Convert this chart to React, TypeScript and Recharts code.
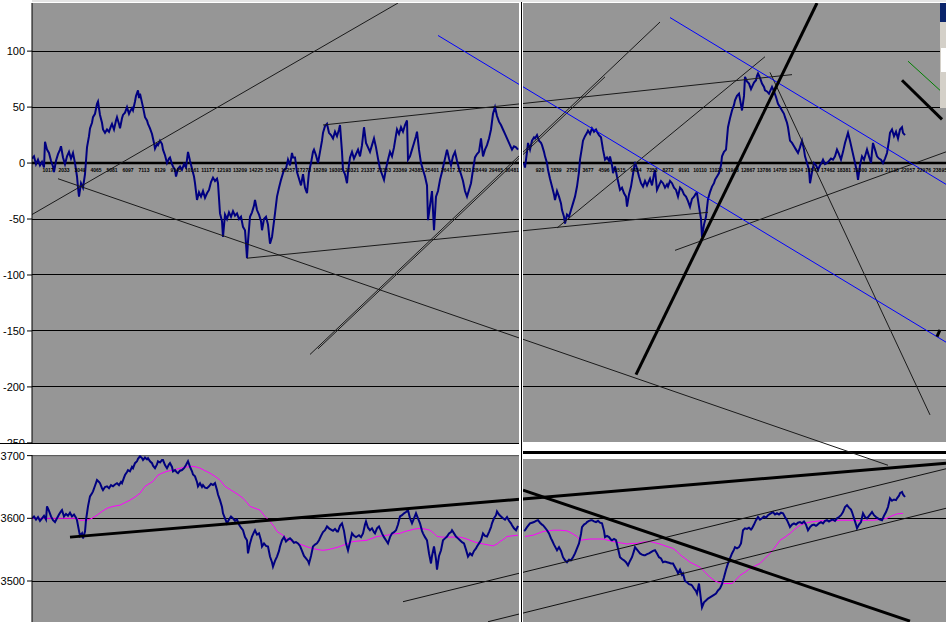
import React from 'react';
import { ComposedChart, Line, Scatter, XAxis, YAxis, ReferenceLine } from 'recharts';

const GRAY = '#969696';
const NAVY = '#000080';
const FONT = 'Liberation Sans, Arial, sans-serif';

// y axis ticks / grid levels
const oscTicks = [100, 50, 0, -50, -100, -150, -200, -250];
const oscGrid = [100, 50, -50, -100, -150, -200];
const priceTicks = [3500, 3600, 3700];
const priceGrid = [3500, 3600];

// tiny bar-number labels printed along the zero line
const barNumsLeft = [1017, 2033, 3049, 4065, 5081, 6097, 7113, 8129, 9145, 10161, 11177, 12193, 13209, 14225, 15241,
  16257, 17273, 18289, 19305, 20321, 21337, 22353, 23369, 24385, 25401, 26417, 27433, 28449, 29465, 30481];
const barPosLeft = [48, 64, 80, 96, 112, 128, 144, 160, 176, 192, 208, 224, 240, 256, 272, 288, 304, 320, 336, 352,
  368, 384, 400, 416, 432, 448, 464, 480, 496, 512];
const barNumsRight = [920, 1839, 2758, 3677, 4596, 5515, 6434, 7353, 8272, 9191, 10110, 11029, 11948, 12867, 13786,
  14705, 15624, 16543, 17462, 18381, 19300, 20219, 21138, 22057, 22976, 23895];
const barPosRight = [540, 556, 572, 588, 604, 620, 636, 652, 668, 684, 700, 716, 732, 748, 764, 780, 796, 812, 828,
  844, 860, 876, 892, 908, 924, 940];

// oscillator (top panel) [bar, value]
const oscLeft = [
  [32, 4], [34, 6], [36, -1], [38, 3], [40, -2], [42, 1], [44, -4], [45, 19], [47, 12], [49, 9], [51, 2], [53, -3],
  [54, -8], [56, 2], [58, 8], [60, 12], [61, 15], [63, 5], [65, -1], [67, 6], [69, 10], [71, 4], [73, 9], [75, 0],
  [77, -12], [78, -22], [79, -30], [81, -18], [83, -22], [85, -10], [87, 14], [89, 24], [90, 31], [92, 36], [93, 41],
  [95, 44], [97, 53], [98, 55], [100, 43], [102, 36], [103, 30], [105, 27], [107, 30], [109, 28], [111, 33], [112, 35],
  [114, 30], [116, 38], [117, 41], [119, 35], [120, 31], [122, 40], [123, 43], [125, 45], [127, 50], [129, 44],
  [130, 46], [132, 49], [133, 47], [135, 55], [136, 60], [138, 65], [139, 58], [140, 62], [142, 54], [143, 50],
  [145, 41], [147, 38], [148, 35], [150, 31], [152, 26], [154, 18], [155, 13], [157, 17], [158, 16], [160, 20],
  [162, 17], [163, 12], [165, 7], [167, 0], [169, 4], [170, 5], [172, -1], [173, -3], [175, -6], [176, -12], [178, -5],
  [180, -3], [182, -6], [184, -1], [186, -4], [187, 3], [188, 10], [190, 2], [192, -5], [194, -12], [195, -18],
  [197, -33], [199, -26], [201, -30], [203, -25], [205, -31], [207, -27], [209, -24], [211, -17], [213, -13],
  [215, -16], [217, -14], [218, -18], [220, -45], [222, -52], [223, -66], [225, -46], [227, -50], [229, -44],
  [231, -48], [233, -43], [235, -47], [237, -45], [239, -50], [241, -48], [243, -57], [245, -60], [246, -72],
  [247, -85], [248, -70], [250, -48], [252, -44], [254, -38], [255, -33], [257, -42], [259, -46], [261, -52],
  [262, -60], [264, -50], [266, -48], [268, -55], [270, -72], [272, -66], [274, -52], [275, -45], [277, -30],
  [279, -22], [281, -15], [282, -12], [284, -6], [286, -5], [288, 3], [290, -2], [292, 9], [293, 5], [295, 5],
  [297, -8], [299, -14], [301, -20], [303, -10], [305, -22], [307, -27], [309, -8], [311, 0], [313, 10], [314, 12],
  [316, 7], [318, 0], [320, 10], [322, 20], [323, 27], [325, 33], [327, 35], [329, 27], [331, 25], [333, 22],
  [335, 28], [337, 24], [339, 30], [340, 34], [342, 10], [343, -6], [345, -10], [347, -18], [348, -8], [350, 5],
  [352, 10], [354, 4], [356, 8], [358, 12], [360, 6], [362, 16], [364, 32], [366, 18], [368, 14], [370, 10],
  [372, 16], [374, 22], [376, 14], [378, 4], [380, -5], [382, -10], [384, -15], [386, -5], [388, 3], [390, 10],
  [392, 6], [394, 14], [396, 25], [397, 30], [399, 26], [401, 32], [403, 28], [405, 34], [407, 38], [408, 3],
  [410, 6], [412, 12], [414, 18], [416, 24], [417, 28], [419, 12], [421, 0], [423, -6], [425, -12], [427, -20],
  [428, -51], [430, -38], [432, -25], [434, -60], [436, -30], [438, -25], [440, -15], [442, -8], [444, 0], [446, 8],
  [447, 12], [449, 4], [451, -2], [453, 6], [455, 10], [457, 2], [459, -5], [461, -10], [463, -16], [465, -25],
  [467, -30], [469, -24], [471, -18], [473, -6], [475, 5], [477, 8], [479, 10], [481, 22], [483, 6], [485, 12],
  [487, 16], [489, 22], [491, 30], [493, 44], [495, 50], [497, 42], [499, 37], [501, 34], [503, 30], [505, 26],
  [507, 22], [509, 18], [511, 14], [512, 12], [514, 15], [516, 14], [518, 12],
];
const oscRight = [
  [524, 0], [525, -4], [527, 10], [528, 18], [530, 12], [532, 20], [534, 23], [535, 22], [537, 25], [539, 20],
  [541, 18], [542, 16], [544, 10], [545, 6], [547, 0], [548, -6], [550, -14], [552, -21], [554, -28], [555, -33],
  [557, -25], [559, -30], [561, -36], [562, -42], [564, -48], [565, -54], [567, -46], [569, -48], [571, -42],
  [573, -36], [575, -30], [577, -21], [579, -8], [580, 3], [582, 14], [583, 20], [585, 24], [587, 27], [588, 29],
  [590, 26], [592, 31], [594, 28], [596, 30], [597, 28], [599, 25], [601, 23], [603, 12], [605, 3], [607, 5],
  [609, 2], [610, 6], [612, -2], [613, -9], [615, -3], [617, -12], [619, -20], [620, -24], [622, -22], [624, -27],
  [626, -30], [627, -39], [629, -28], [631, -21], [633, -10], [635, 1], [637, -5], [639, -12], [641, -18], [643, -21],
  [645, -16], [647, -20], [648, -18], [650, -14], [652, -20], [654, -10], [655, -6], [657, -24], [659, -20],
  [661, -16], [663, -18], [665, -22], [667, -19], [668, -21], [670, -16], [672, -18], [674, -22], [676, -24],
  [678, -30], [680, -22], [682, -24], [684, -28], [686, -30], [688, -34], [690, -39], [692, -32], [694, -30],
  [696, -27], [697, -27], [699, -39], [701, -50], [702, -66], [704, -55], [706, -48], [708, -32], [710, -26],
  [712, -21], [714, -18], [715, -15], [717, -12], [719, -9], [721, -2], [722, 6], [724, 10], [726, 12], [727, 22],
  [728, 32], [730, 40], [732, 47], [734, 52], [735, 56], [737, 60], [739, 62], [741, 52], [742, 47], [744, 60],
  [745, 77], [747, 73], [749, 71], [751, 66], [752, 68], [754, 72], [756, 74], [757, 78], [758, 80], [760, 76],
  [762, 71], [764, 68], [765, 65], [767, 64], [769, 62], [771, 66], [772, 68], [774, 64], [776, 59], [778, 53],
  [780, 50], [782, 47], [784, 44], [785, 41], [787, 36], [788, 32], [790, 20], [792, 18], [794, 15], [796, 12],
  [798, 9], [800, 14], [802, 20], [804, 12], [805, 6], [807, 0], [809, -6], [810, -18], [812, -8], [814, 0],
  [816, -2], [818, -6], [820, -2], [822, 1], [823, 3], [825, -1], [827, 0], [829, 2], [831, 4], [833, 3], [835, 6],
  [837, 12], [839, 8], [841, 3], [843, 10], [845, 18], [847, 24], [848, 27], [850, 20], [852, 12], [854, 4],
  [855, 0], [857, -8], [858, -15], [860, -2], [862, 6], [864, 3], [866, 9], [867, 12], [869, 6], [871, 0], [872, 10],
  [873, 18], [875, 12], [877, 6], [879, 4], [881, 3], [883, 0], [885, 4], [887, 9], [889, 20], [890, 27], [892, 30],
  [894, 24], [896, 28], [898, 22], [900, 30], [902, 32], [903, 27], [905, 25],
];

// price (bottom panel) [bar, value]
const priceLeft = [
  [32, 3600], [34, 3603], [36, 3598], [38, 3602], [40, 3596], [42, 3600], [44, 3604], [46, 3598], [47, 3619],
  [49, 3612], [51, 3603], [53, 3597], [55, 3594], [57, 3600], [59, 3606], [61, 3611], [62, 3613], [64, 3603],
  [66, 3607], [68, 3604], [70, 3609], [72, 3603], [74, 3606], [76, 3601], [77, 3597], [79, 3580], [80, 3572],
  [82, 3576], [83, 3568], [85, 3579], [86, 3597], [88, 3619], [90, 3635], [92, 3640], [93, 3643], [95, 3652],
  [97, 3661], [99, 3658], [100, 3656], [102, 3648], [103, 3645], [105, 3650], [107, 3651], [109, 3648], [111, 3653],
  [113, 3651], [115, 3654], [117, 3656], [119, 3653], [121, 3658], [122, 3656], [124, 3665], [125, 3669], [127, 3674],
  [128, 3677], [130, 3675], [132, 3682], [133, 3680], [135, 3688], [137, 3691], [138, 3695], [140, 3699], [142, 3696],
  [143, 3693], [145, 3697], [147, 3694], [148, 3696], [150, 3691], [152, 3688], [153, 3684], [155, 3680], [157, 3686],
  [158, 3691], [160, 3689], [162, 3693], [163, 3693], [165, 3685], [167, 3680], [169, 3686], [170, 3688], [172, 3682],
  [173, 3675], [175, 3677], [177, 3673], [178, 3672], [180, 3676], [182, 3677], [184, 3680], [186, 3685], [188, 3691],
  [190, 3682], [192, 3675], [193, 3670], [195, 3667], [197, 3658], [198, 3651], [200, 3656], [202, 3650], [203, 3653],
  [205, 3649], [207, 3648], [209, 3651], [211, 3655], [213, 3653], [215, 3656], [217, 3645], [218, 3638], [220, 3629],
  [222, 3618], [223, 3608], [225, 3600], [227, 3592], [229, 3598], [231, 3603], [233, 3600], [235, 3596], [237, 3598],
  [239, 3590], [241, 3585], [243, 3581], [245, 3570], [247, 3565], [248, 3544], [250, 3560], [252, 3571], [254, 3578],
  [255, 3581], [257, 3574], [259, 3576], [261, 3565], [262, 3555], [264, 3560], [266, 3556], [268, 3555], [270, 3539],
  [272, 3530], [273, 3523], [275, 3532], [277, 3539], [279, 3548], [280, 3555], [282, 3565], [284, 3570], [286, 3563],
  [288, 3566], [290, 3568], [292, 3565], [294, 3561], [296, 3562], [298, 3560], [300, 3556], [302, 3548], [304, 3540],
  [306, 3536], [308, 3532], [309, 3528], [311, 3540], [313, 3555], [315, 3558], [317, 3560], [319, 3565], [321, 3572],
  [323, 3578], [325, 3581], [327, 3587], [329, 3584], [331, 3582], [333, 3580], [335, 3583], [337, 3579], [338, 3579],
  [340, 3588], [342, 3592], [344, 3580], [346, 3560], [348, 3549], [350, 3562], [352, 3576], [354, 3572], [356, 3570],
  [357, 3571], [359, 3573], [361, 3570], [363, 3576], [365, 3590], [366, 3595], [368, 3585], [370, 3581], [372, 3584],
  [374, 3578], [375, 3576], [377, 3584], [379, 3587], [381, 3580], [382, 3576], [384, 3570], [386, 3565], [388, 3560],
  [390, 3570], [392, 3576], [394, 3578], [396, 3581], [398, 3590], [400, 3603], [402, 3605], [404, 3608], [406, 3610],
  [408, 3613], [410, 3600], [412, 3592], [414, 3600], [416, 3608], [418, 3600], [420, 3592], [422, 3580], [423, 3576],
  [425, 3570], [427, 3565], [429, 3544], [431, 3528], [432, 3540], [434, 3555], [436, 3535], [437, 3518], [439, 3540],
  [441, 3549], [443, 3565], [445, 3568], [447, 3571], [449, 3576], [451, 3578], [452, 3581], [454, 3576], [456, 3571],
  [458, 3568], [460, 3565], [462, 3562], [464, 3560], [466, 3550], [468, 3539], [470, 3544], [472, 3541], [474, 3548],
  [476, 3552], [477, 3555], [479, 3560], [481, 3565], [483, 3576], [485, 3572], [487, 3571], [489, 3578], [491, 3586],
  [492, 3592], [494, 3600], [496, 3605], [497, 3611], [499, 3606], [501, 3603], [503, 3600], [505, 3598], [507, 3602],
  [509, 3596], [511, 3592], [512, 3589], [514, 3584], [516, 3581], [518, 3588],
];
const priceRight = [
  [524, 3580], [525, 3581], [527, 3586], [529, 3590], [530, 3592], [532, 3593], [534, 3594], [536, 3596], [538, 3597],
  [540, 3593], [542, 3590], [543, 3589], [545, 3585], [547, 3581], [549, 3576], [551, 3568], [552, 3565], [554, 3558],
  [556, 3552], [557, 3549], [559, 3554], [561, 3548], [563, 3538], [565, 3533], [567, 3530], [569, 3534], [571, 3533],
  [573, 3538], [575, 3544], [577, 3552], [579, 3560], [581, 3575], [582, 3586], [584, 3590], [586, 3592], [587, 3594],
  [589, 3596], [591, 3597], [592, 3597], [594, 3595], [596, 3594], [598, 3596], [600, 3593], [602, 3592], [604, 3580],
  [605, 3570], [607, 3572], [609, 3570], [611, 3566], [612, 3565], [614, 3567], [616, 3565], [618, 3552], [620, 3538],
  [622, 3535], [624, 3533], [626, 3530], [628, 3525], [630, 3532], [632, 3538], [634, 3548], [635, 3554], [637, 3550],
  [639, 3546], [640, 3544], [642, 3542], [644, 3541], [645, 3541], [647, 3543], [649, 3544], [651, 3546], [653, 3548],
  [655, 3549], [657, 3544], [659, 3538], [661, 3536], [663, 3530], [665, 3531], [667, 3530], [669, 3529], [671, 3528],
  [673, 3528], [675, 3522], [677, 3516], [678, 3512], [680, 3518], [682, 3510], [683, 3512], [685, 3500], [687, 3498],
  [689, 3495], [691, 3494], [692, 3493], [694, 3488], [696, 3484], [697, 3480], [699, 3496], [701, 3470], [702, 3458],
  [704, 3466], [706, 3469], [708, 3472], [710, 3474], [712, 3476], [714, 3478], [716, 3480], [718, 3485], [720, 3488],
  [722, 3495], [724, 3506], [726, 3518], [728, 3528], [730, 3536], [732, 3544], [734, 3550], [735, 3554], [737, 3552],
  [739, 3554], [741, 3560], [743, 3581], [745, 3584], [747, 3583], [749, 3585], [751, 3582], [752, 3584], [754, 3590],
  [756, 3597], [758, 3602], [760, 3598], [762, 3600], [764, 3603], [766, 3601], [768, 3605], [770, 3607], [772, 3609],
  [773, 3610], [775, 3606], [777, 3608], [779, 3606], [781, 3609], [783, 3608], [785, 3602], [787, 3597], [789, 3590],
  [790, 3586], [792, 3590], [794, 3592], [796, 3590], [798, 3593], [800, 3594], [802, 3592], [804, 3595], [806, 3590],
  [808, 3581], [810, 3586], [812, 3589], [814, 3590], [816, 3588], [817, 3589], [819, 3592], [821, 3594], [823, 3592],
  [825, 3596], [827, 3597], [829, 3595], [831, 3597], [833, 3598], [835, 3596], [837, 3600], [839, 3602], [841, 3605],
  [843, 3610], [845, 3618], [847, 3621], [849, 3617], [851, 3614], [852, 3610], [854, 3600], [856, 3590], [857, 3584],
  [859, 3590], [861, 3594], [863, 3608], [865, 3602], [867, 3600], [869, 3604], [871, 3608], [872, 3610], [874, 3605],
  [876, 3602], [878, 3600], [880, 3598], [882, 3597], [884, 3604], [886, 3610], [888, 3618], [890, 3632], [892, 3628],
  [894, 3630], [896, 3629], [897, 3632], [899, 3636], [900, 3640], [902, 3642], [903, 3638], [905, 3634],
];

// moving average of price [bar, value]
const avgLeft = [
  [32, 3600], [50, 3600], [77, 3600], [80, 3597], [87, 3597], [92, 3600], [97, 3605], [102, 3611], [107, 3616],
  [113, 3619], [120, 3621], [125, 3625], [130, 3629], [135, 3634], [140, 3640], [145, 3651], [149, 3655], [153, 3659],
  [158, 3669], [162, 3672], [167, 3675], [173, 3677], [178, 3679], [183, 3681], [188, 3682], [192, 3683], [196, 3682],
  [200, 3680], [205, 3676], [210, 3672], [215, 3667], [220, 3661], [225, 3651], [229, 3647], [233, 3643], [238, 3638],
  [243, 3632], [247, 3625], [250, 3619], [255, 3616], [260, 3613], [265, 3603], [270, 3595], [274, 3587], [277, 3579],
  [280, 3576], [283, 3573], [288, 3566], [293, 3563], [298, 3560], [303, 3557], [308, 3554], [313, 3552], [318, 3550],
  [323, 3549], [328, 3550], [333, 3552], [338, 3554], [343, 3557], [348, 3560], [353, 3563], [360, 3564], [367, 3565],
  [372, 3568], [377, 3571], [382, 3572], [387, 3573], [393, 3575], [400, 3576], [405, 3579], [410, 3581], [415, 3583],
  [420, 3584], [425, 3583], [430, 3581], [434, 3576], [437, 3571], [442, 3570], [447, 3570], [453, 3570], [460, 3570],
  [465, 3568], [470, 3565], [475, 3562], [480, 3560], [487, 3558], [493, 3556], [497, 3559], [500, 3563], [504, 3567],
  [507, 3571], [512, 3572], [518, 3573],
];
const avgRight = [
  [525, 3571], [529, 3572], [533, 3573], [538, 3576], [543, 3579], [548, 3580], [553, 3581], [560, 3581], [567, 3580],
  [572, 3576], [577, 3571], [580, 3565], [585, 3566], [590, 3567], [597, 3567], [603, 3567], [608, 3565], [613, 3563],
  [620, 3561], [627, 3559], [632, 3560], [637, 3560], [643, 3562], [650, 3563], [655, 3561], [660, 3559], [667, 3555],
  [673, 3552], [677, 3547], [680, 3542], [685, 3536], [690, 3530], [695, 3526], [700, 3522], [705, 3514], [710, 3506],
  [715, 3500], [720, 3497], [723, 3496], [728, 3496], [732, 3496], [736, 3502], [740, 3509], [745, 3514], [750, 3520],
  [755, 3524], [760, 3528], [765, 3536], [770, 3544], [775, 3554], [780, 3565], [785, 3570], [790, 3576], [795, 3583],
  [800, 3589], [805, 3592], [810, 3594], [815, 3595], [820, 3596], [827, 3596], [833, 3596], [840, 3597], [850, 3597],
  [860, 3596], [867, 3597], [873, 3597], [880, 3598], [887, 3600], [892, 3604], [897, 3607], [903, 3608],
];

// drawn trend lines [bar1, value1, bar2, value2]
const oscThinLines = [
  [32, -46, 398, 143],
  [323, 34, 792, 79],
  [247, -85, 708, -44],
  [310, -171, 660, 126],
  [318, -166, 605, 77],
  [557, -58, 765, 95],
  [675, -78, 946, 10],
  [770, 81, 930, -225],
];
const oscLongLine = [58, -14, 888, -270];
const oscThickLines = [
  [636, -189, 817, 143],
  [902, 74, 942, 39],
  [937, -155, 940, -149],
];
const oscBlueLines = [
  [438, 114, 946, -160],
  [670, 130, 946, -19],
];
const oscGreenLines = [[908, 91, 940, 65]];
const priceThickLines = [
  [70, 3570, 946, 3688],
  [523, 3645, 910, 3436],
];
const priceThinLines = [
  [403, 3467, 946, 3679],
  [488, 3435, 946, 3616],
];

const pts = (arr: number[][]) => arr.map(([x, y]) => ({ x, y }));
const seg = (s: number[]) => [{ x: s[0], y: s[1] }, { x: s[2], y: s[3] }];

const barLabels = [
  ...barNumsLeft.map((n, i) => ({ x: barPosLeft[i], y: 0, label: String(n) })),
  ...barNumsRight.map((n, i) => ({ x: barPosRight[i], y: 0, label: String(n) })),
];

const tickStyle = { fill: '#000', fontSize: 11, fontFamily: FONT };

const BarLabel = (p: any) => (
  <text x={p.cx} y={p.cy + 8.5} textAnchor="middle" fontSize={5} fontWeight="bold" fontFamily={FONT} fill="#000">
    {p.payload.label}
  </text>
);

const box = (left: number, top: number, width: number, height: number, background: string): React.CSSProperties => ({
  position: 'absolute', left, top, width, height, background,
});

export default function App() {
  return (
    <div style={{ position: 'absolute', left: 0, top: 0, width: 946, height: 622, background: '#fff', overflow: 'hidden' }}>
      {/* panel backgrounds */}
      <div style={box(32, 3, 487, 441, GRAY)} />
      <div style={box(523, 3, 423, 439, GRAY)} />
      <div style={box(32, 455, 487, 167, GRAY)} />
      <div style={box(523, 459, 423, 163, GRAY)} />

      <div style={{ position: 'absolute', left: 0, top: 450 }}>
        <ComposedChart width={946} height={172} margin={{ top: 5, right: 0, bottom: 0, left: 0 }}>
          <XAxis dataKey="x" type="number" domain={[32, 946]} hide allowDataOverflow />
          <YAxis type="number" domain={[3434.6, 3701]} ticks={priceTicks} interval={0} width={32} allowDataOverflow
            tick={tickStyle} tickSize={5} tickLine={{ stroke: '#000' }} axisLine={{ stroke: '#000' }} />
          {priceGrid.map(v => (
            <ReferenceLine key={v} y={v} stroke="#000" shapeRendering="crispEdges" />
          ))}
          <ReferenceLine segment={[{ x: 32, y: 3700 }, { x: 519, y: 3700 }]} stroke="#555" />
          <Line data={pts(avgLeft)} dataKey="y" type="linear" dot={false} stroke="#ff00ff" strokeWidth={1} isAnimationActive={false} />
          <Line data={pts(avgRight)} dataKey="y" type="linear" dot={false} stroke="#ff00ff" strokeWidth={1} isAnimationActive={false} />
          <Line data={pts(priceLeft)} dataKey="y" type="linear" dot={false} stroke={NAVY} strokeWidth={2} isAnimationActive={false} />
          <Line data={pts(priceRight)} dataKey="y" type="linear" dot={false} stroke={NAVY} strokeWidth={2} isAnimationActive={false} />
          {priceThinLines.map((s, i) => (
            <ReferenceLine key={'pt' + i} segment={seg(s)} stroke="#111" strokeWidth={1} ifOverflow="hidden" />
          ))}
          {priceThickLines.map((s, i) => (
            <ReferenceLine key={'pk' + i} segment={seg(s)} stroke="#000" strokeWidth={3} ifOverflow="hidden" />
          ))}
        </ComposedChart>
      </div>

      {/* thick separator above the right price panel */}
      <div style={box(522, 451, 424, 2.5, '#000')} />

      <div style={{ position: 'absolute', left: 0, top: 0 }}>
        <ComposedChart width={946} height={470} margin={{ top: 3, right: 0, bottom: 26, left: 0 }}>
          <XAxis dataKey="x" type="number" domain={[32, 946]} hide allowDataOverflow />
          <YAxis type="number" domain={[-251, 143]} ticks={oscTicks} interval={0} width={32} allowDataOverflow
            tick={tickStyle} tickSize={5} tickLine={{ stroke: '#000' }} axisLine={{ stroke: '#000' }} />
          {oscGrid.map(v => (
            <ReferenceLine key={v} y={v} stroke="#000" shapeRendering="crispEdges" />
          ))}
          <ReferenceLine y={0} stroke="#000" strokeWidth={2.5} />
          <Line data={pts(oscLeft)} dataKey="y" type="linear" dot={false} stroke={NAVY} strokeWidth={2} isAnimationActive={false} />
          <Line data={pts(oscRight)} dataKey="y" type="linear" dot={false} stroke={NAVY} strokeWidth={2} isAnimationActive={false} />
          <Scatter data={barLabels} dataKey="y" shape={BarLabel} isAnimationActive={false} />
          {oscThinLines.map((s, i) => (
            <ReferenceLine key={'ot' + i} segment={seg(s)} stroke="#1a1a1a" strokeWidth={1} ifOverflow="hidden" />
          ))}
          <ReferenceLine segment={seg(oscLongLine)} stroke="#1a1a1a" strokeWidth={1} ifOverflow="visible" />
          {oscBlueLines.map((s, i) => (
            <ReferenceLine key={'ob' + i} segment={seg(s)} stroke="#0000ff" strokeWidth={1} ifOverflow="hidden" />
          ))}
          {oscGreenLines.map((s, i) => (
            <ReferenceLine key={'og' + i} segment={seg(s)} stroke="#008000" strokeWidth={1} ifOverflow="hidden" />
          ))}
          {oscThickLines.map((s, i) => (
            <ReferenceLine key={'ok' + i} segment={seg(s)} stroke="#000" strokeWidth={3} ifOverflow="hidden" />
          ))}
        </ComposedChart>
      </div>

      {/* window frame pieces */}
      <div style={box(0, 444, 521, 7, '#fff')} />
      <div style={box(0, 443, 521, 1, '#000')} />
      <div style={box(519, 0, 4, 622, '#fff')} />
      <div style={box(521, 0, 1, 622, '#000')} />
      <div style={box(32, 0, 914, 2, '#e4e4e4')} />
      <div style={box(940, 3, 6, 19, '#0a246a')} />
      <div style={box(940, 22, 6, 86, '#d4d0c8')} />
      <div style={box(941, 48, 5, 24, '#fff')} />
    </div>
  );
}
